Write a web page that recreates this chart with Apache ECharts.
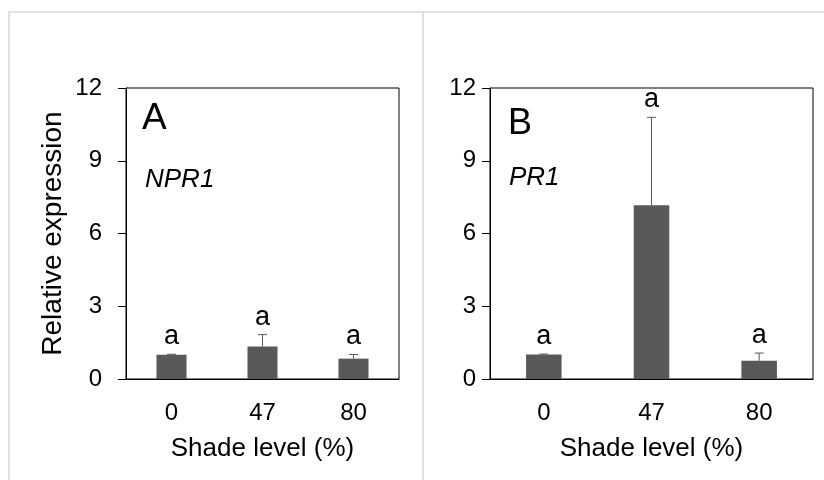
<!DOCTYPE html>
<html>
<head>
<meta charset="utf-8">
<script src="https://cdn.jsdelivr.net/npm/echarts@6/dist/echarts.min.js"></script>
<style>
  html, body { margin: 0; padding: 0; background: #fff; }
  #chart { width: 824px; height: 480px; }
</style>
</head>
<body>
<div id="chart"></div>
<script>
// shade levels (%)
const categories = ['0', '47', '80']
// panel A: NPR1
const npr1Mean = [1.0, 1.34, 0.84]
const npr1Err = [0.02, 0.49, 0.17]
// panel B: PR1
const pr1Mean = [1.01, 7.16, 0.75]
const pr1Err = [0.02, 3.63, 0.32]
const npr1Letters = ['a', 'a', 'a']
const pr1Letters = ['a', 'a', 'a']
const yTicks = [0, 3, 6, 9, 12]

const FONT = 'Liberation Sans, Arial, sans-serif'
const barColor = '#595959'

function errData(means, errs) {
  return means.map((m, i) => [i, m, m + errs[i]])
}

function errorItem(letters) {
  return function(params, api) {
    const i = api.value(0)
    const p0 = api.coord([i, api.value(1)])
    const p1 = api.coord([i, api.value(2)])
    const cap = 4.5
    return {
      type: 'group',
      children: [
        { type: 'line', shape: { x1: p0[0], y1: p0[1], x2: p1[0], y2: p1[1] }, style: { stroke: barColor, lineWidth: 1 } },
        { type: 'line', shape: { x1: p1[0] - cap, y1: p1[1], x2: p1[0] + cap, y2: p1[1] }, style: { stroke: barColor, lineWidth: 1 } },
        { type: 'text', x: p1[0], y: p1[1] - 4, style: { text: letters[params.dataIndex], fill: '#000', font: '27px ' + FONT, align: 'center', verticalAlign: 'bottom' } }
      ]
    }
  }
}

function xAxisOf(gridIndex) {
  return {
    type: 'category',
    gridIndex,
    data: categories,
    name: 'Shade level (%)',
    nameLocation: 'middle',
    nameGap: 57,
    nameTextStyle: { fontSize: 26, color: '#000', fontFamily: FONT },
    axisLine: { lineStyle: { color: '#000', width: 1 } },
    axisTick: { show: false },
    axisLabel: { fontSize: 24, color: '#000', fontFamily: FONT, margin: 22 }
  }
}

function yAxisOf(gridIndex, margin, withName) {
  return {
    type: 'value',
    gridIndex,
    min: 0,
    max: 12,
    interval: 3,
    name: withName ? 'Relative expression' : '',
    nameLocation: 'middle',
    nameGap: 59,
    nameTextStyle: { fontSize: 28, color: '#000', fontFamily: FONT },
    axisLine: { show: true, lineStyle: { color: '#000', width: 1 } },
    axisTick: { show: true, inside: false, length: 8, lineStyle: { color: '#000' } },
    axisLabel: {
      fontSize: 24, color: '#000', fontFamily: FONT, margin,
      formatter: v => (yTicks.indexOf(v) >= 0 ? String(v) : '')
    },
    splitLine: { show: false }
  }
}

const chart = echarts.init(document.getElementById('chart'), null, { renderer: 'canvas' })

chart.setOption({
  backgroundColor: '#fff',
  animation: false,
  grid: [
    { left: 126, right: 425, top: 88, bottom: 101, show: true, borderColor: '#000', borderWidth: 1, backgroundColor: 'transparent' },
    { left: 490, right: 11, top: 88, bottom: 101, show: true, borderColor: '#000', borderWidth: 1, backgroundColor: 'transparent' }
  ],
  graphic: [
    { type: 'rect', shape: { x: 9, y: 12, width: 830, height: 480 }, style: { fill: 'none', stroke: '#d9d9d9', lineWidth: 1.5 }, z: -1 },
    { type: 'line', shape: { x1: 423, y1: 12, x2: 423, y2: 480 }, style: { stroke: '#d9d9d9', lineWidth: 1.5 }, z: -1 },
    { type: 'text', left: 142, top: 100, style: { text: 'A', font: '37px ' + FONT, fill: '#000' } },
    { type: 'text', left: 145, top: 167, style: { text: 'NPR1', font: 'italic 26px ' + FONT, fill: '#000' } },
    { type: 'text', left: 508, top: 106, style: { text: 'B', font: '36px ' + FONT, fill: '#000' } },
    { type: 'text', left: 509, top: 165, style: { text: 'PR1', font: 'italic 26px ' + FONT, fill: '#000' } }
  ],
  xAxis: [xAxisOf(0), xAxisOf(1)],
  yAxis: [yAxisOf(0, 24, true), yAxisOf(1, 14, false)],
  series: [
    {
      type: 'bar',
      xAxisIndex: 0,
      yAxisIndex: 0,
      data: npr1Mean,
      barWidth: '33%',
      itemStyle: { color: barColor }
    },
    {
      type: 'custom',
      xAxisIndex: 0,
      yAxisIndex: 0,
      data: errData(npr1Mean, npr1Err),
      renderItem: errorItem(npr1Letters),
      z: 3
    },
    {
      type: 'bar',
      xAxisIndex: 1,
      yAxisIndex: 1,
      data: pr1Mean,
      barWidth: '33%',
      itemStyle: { color: barColor }
    },
    {
      type: 'custom',
      xAxisIndex: 1,
      yAxisIndex: 1,
      data: errData(pr1Mean, pr1Err),
      renderItem: errorItem(pr1Letters),
      z: 3
    }
  ]
})
</script>
</body>
</html>
